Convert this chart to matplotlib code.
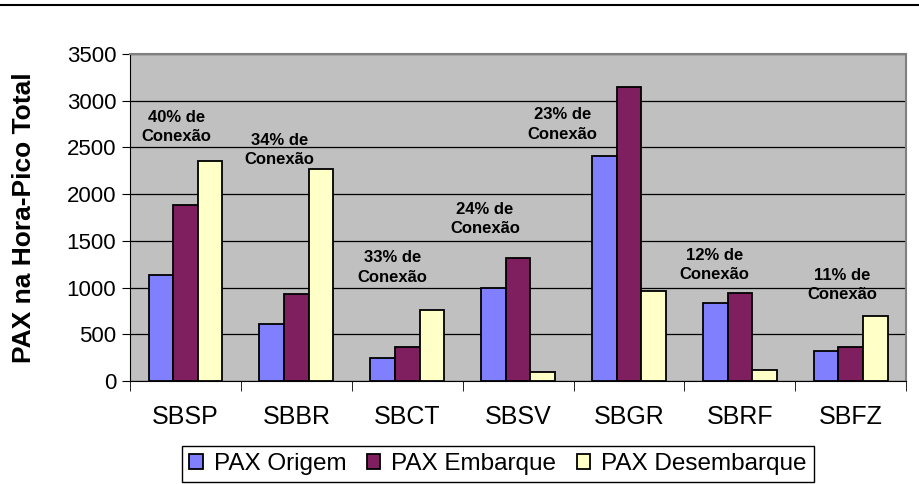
import numpy as np
import matplotlib
matplotlib.use("Agg")
from matplotlib import pyplot as plt
from matplotlib.lines import Line2D

plt.rcParams['font.family'] = ['Liberation Sans', 'DejaVu Sans']

airports = ["SBSP", "SBBR", "SBCT", "SBSV", "SBGR", "SBRF", "SBFZ"]
pax_origem = [1135, 607, 250, 1000, 2412, 832, 321]
pax_embarque = [1886, 928, 364, 1321, 3151, 946, 364]
pax_desembarque = [2355, 2266, 760, 93, 964, 114, 700]
conexao = ["40%", "34%", "33%", "24%", "23%", "12%", "11%"]
# where the notes sit (x offset from category centre, y centre in data units)
note_dx = [-0.08, -0.15, -0.13, -0.3, -0.6, -0.23, -0.08]
note_y = [2720, 2470, 1215, 1730, 2745, 1240, 1030]

series_names = ["PAX Origem", "PAX Embarque", "PAX Desembarque"]
colors = ["#8080FF", "#7F1F5F", "#FFFFC8"]

fig = plt.figure(figsize=(9.19, 4.84), dpi=100)
ax = fig.add_axes([0.1415, 0.2128, 0.8445, 0.6756])
ax.set_facecolor("#C0C0C0")

x = np.arange(len(airports))
w = 0.222
for i, vals in enumerate([pax_origem, pax_embarque, pax_desembarque]):
    ax.bar(x + (i - 1) * w, vals, w, color=colors[i], edgecolor="black",
           linewidth=1.3, zorder=3, label=series_names[i])

ax.set_xlim(-0.5, len(airports) - 0.5)
ax.set_ylim(0, 3500)
ax.set_yticks(np.arange(0, 3501, 500))
ax.yaxis.grid(True, color="black", linewidth=0.9, zorder=1)
ax.set_axisbelow(True)

ax.set_xticks(x)
ax.set_xticklabels(airports, fontsize=18)
ax.set_xticks(np.arange(-0.5, len(airports)), minor=True)
ax.tick_params(axis="x", which="major", length=0, pad=17)
ax.tick_params(axis="x", which="minor", length=7, direction="out", color="black")
ax.tick_params(axis="y", labelsize=16, length=6, direction="out", pad=4)

for s in ["top", "right"]:
    ax.spines[s].set_color("#808080")
    ax.spines[s].set_linewidth(1.5)
ax.spines["left"].set_color("black")
ax.spines["bottom"].set_color("black")

ax.set_ylabel("PAX na Hora-Pico Total", fontsize=19, fontweight="bold")
ax.yaxis.set_label_coords(-0.121, 0.5)

for i, c in enumerate(conexao):
    ax.text(x[i] + note_dx[i], note_y[i], c + " de\nConexão", ha="center", va="center",
            fontsize=12, fontweight="bold", linespacing=1.35, zorder=4)

ax.legend(loc="upper center", bbox_to_anchor=(0.474, -0.198), ncol=3, frameon=True,
          fancybox=False, edgecolor="black", fontsize=17.5, handlelength=0.55,
          handleheight=0.55, handletextpad=0.45, columnspacing=0.85, borderpad=0.3,
          borderaxespad=0, framealpha=1)

fig.add_artist(Line2D([0, 1], [0.99, 0.99], color="black", linewidth=1.5))

fig.savefig("out.png", dpi=100)
